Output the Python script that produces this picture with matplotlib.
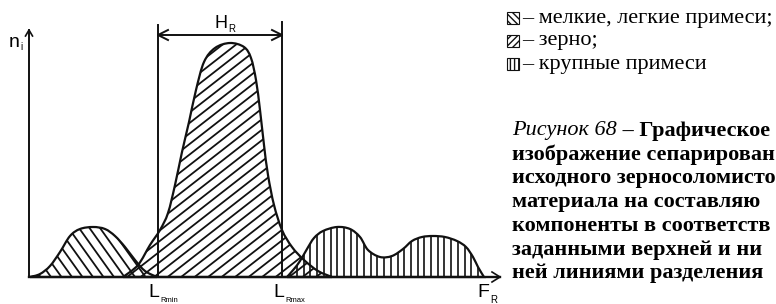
import numpy as np
import matplotlib
matplotlib.use('Agg')
import matplotlib.pyplot as plt
from matplotlib.path import Path
from matplotlib.patches import PathPatch, Rectangle
from matplotlib.collections import LineCollection

# ---------------- data (F along x-axis, n_i height) ----------------
fine_F = [1, 11, 21, 31, 41, 51, 64, 76, 86, 96, 106, 116, 128]
fine_n = [0, 3, 11, 25, 41, 48, 50, 48, 41, 30, 17, 6, 0]

grain_F = [94, 109, 121, 131, 139, 146, 153, 160, 167, 175, 186, 201, 215, 222,
           227, 231, 235, 239, 245, 253, 263, 275, 289, 303]
grain_n = [0, 12, 32, 47, 64, 92, 125, 155, 187, 215, 229, 234, 230, 219,
           197, 167, 132, 102, 72, 47, 30, 17, 6, 0]

coarse_F = [258, 265, 271, 278, 285, 294, 308, 321, 331, 339, 351, 363, 374, 383,
            393, 404, 416, 428, 437, 444, 449, 455]
coarse_n = [0, 8, 16, 28, 39, 46, 50, 48, 40, 27, 20, 21, 28, 36,
            40, 41, 40, 36, 30, 20, 10, 0]

L_Rmin = 129
L_Rmax = 253

legend_labels = ['– мелкие, легкие примеси;', '– зерно;', '– крупные примеси']
caption_first_italic = 'Рисунок 68'
caption_first_bold = ' – Графическое'
# caption lines as visible in the reference (cropped at the right edge there)
caption_lines = ['изображение сепарирован',
                 'исходного зерносоломисто',
                 'материала на составляю',
                 'компоненты в соответств',
                 'заданными верхней и ни',
                 'ней линиями разделения']

# ---------------- figure ----------------
fig = plt.figure(figsize=(7.76, 3.04), dpi=100)
ax = fig.add_axes([0, 0, 1, 1])
ax.set_xlim(-29, 747)
ax.set_ylim(-27, 277)
ax.axis('off')

def px(x, y):
    return x - 29, 277 - y

def smooth_path(F, n):
    P = np.column_stack([F, n]).astype(float)
    Pe = np.vstack([P[0], P, P[-1]])
    verts = [P[0]]
    codes = [Path.MOVETO]
    for i in range(len(P) - 1):
        p0, p1, p2, p3 = Pe[i], Pe[i + 1], Pe[i + 2], Pe[i + 3]
        c1 = p1 + (p2 - p0) / 6.0
        c2 = p2 - (p3 - p1) / 6.0
        verts += [c1, c2, p2]
        codes += [Path.CURVE4] * 3
    verts.append(P[0])
    codes.append(Path.LINETO)
    return Path(verts, codes)

k = '#111111'

def hatch(F, n, slope, step, lw=1.3):
    path = smooth_path(F, n)
    clip = PathPatch(path, transform=ax.transData, facecolor='none', edgecolor='none')
    ax.add_patch(clip)
    x0, x1 = min(F), max(F)
    H = max(n) + 5
    segs = []
    if slope is None:
        for c in np.arange(x0 + step / 2, x1, step):
            segs.append([(c, 0), (c, H)])
    else:
        cmin = min(x0, x0 - H / slope)
        cmax = max(x1, x1 - H / slope)
        for c in np.arange(cmin, cmax, step):
            segs.append([(c, 0), (c + H / slope, H)])
    lc = LineCollection(segs, colors=k, linewidths=lw)
    lc.set_clip_path(clip)
    ax.add_collection(lc)
    outline = PathPatch(path, facecolor='none', edgecolor=k, lw=1.6)
    ax.add_patch(outline)

hatch(fine_F, fine_n, -1.4, 10.5)
hatch(grain_F, grain_n, 0.78, 13.5)
hatch(coarse_F, coarse_n, None, 6.7, lw=1.2)

# axes
ax.plot([0, 0], [0, 247], color=k, lw=1.4)
ax.plot([0, 471], [0, 0], color=k, lw=1.7)
ax.plot([-3.5, 0, 3.5], [241, 247, 241], color=k, lw=1.2)
ax.plot([463, 471, 463], [5, 0, -5], color=k, lw=1.2)

# separation lines
ax.plot([L_Rmin, L_Rmin], [0, 252], color=k, lw=1.4)
ax.plot([L_Rmax, L_Rmax], [0, 255], color=k, lw=1.4)
ax.plot([L_Rmin, L_Rmax], [242, 242], color=k, lw=1.4)
ax.plot([L_Rmin + 10, L_Rmin, L_Rmin + 10], [247, 242, 237], color=k, lw=1.4)
ax.plot([L_Rmax - 10, L_Rmax, L_Rmax - 10], [247, 242, 237], color=k, lw=1.4)

sans = 'Liberation Sans'
ax.text(*px(20, 47), 'n', fontsize=14, family=sans, ha='right', va='baseline')
ax.text(*px(20.5, 50), 'i', fontsize=7, family=sans, ha='left', va='baseline')
ax.text(*px(227, 28), 'H', fontsize=13, family=sans, ha='right', va='baseline')
ax.text(*px(228, 32), 'R', fontsize=7, family=sans, ha='left', va='baseline')
ax.text(*px(159, 297), 'L', fontsize=14, family=sans, ha='right', va='baseline')
ax.text(*px(160, 302), 'Rmin', fontsize=5.5, family=sans, ha='left', va='baseline')
ax.text(*px(284, 297), 'L', fontsize=14, family=sans, ha='right', va='baseline')
ax.text(*px(285, 302), 'Rmax', fontsize=5.5, family=sans, ha='left', va='baseline')
ax.text(*px(489, 297), 'F', fontsize=14, family=sans, ha='right', va='baseline')
ax.text(*px(490, 303), 'R', fontsize=7, family=sans, ha='left', va='baseline')

# legend
serif = 'Liberation Serif'
FS = 16
icon_hatch = ['\\\\\\\\\\', '/////', '||||']
legend_y = [18, 41, 64]
for lab, hy, yy in zip(legend_labels, icon_hatch, legend_y):
    x0, y0 = px(507, yy + 6)
    r = Rectangle((x0, y0), 12, 12, facecolor='white', edgecolor=k, lw=0.8, hatch=hy)
    ax.add_patch(r)
    ax.text(*px(522, yy), lab, fontsize=FS, family=serif, ha='left', va='center')

# caption
cap_y0 = 131
cap_dy = 23.7
t1 = ax.text(*px(512, cap_y0), caption_first_italic, fontsize=FS, family=serif,
             style='italic', ha='left', va='center')
fig.canvas.draw()
bb = t1.get_window_extent(renderer=fig.canvas.get_renderer())
ax.text(*px(bb.x1, cap_y0), caption_first_bold, fontsize=FS, family=serif,
        weight='bold', ha='left', va='center')
for i, line in enumerate(caption_lines):
    ax.text(*px(512, cap_y0 + (i + 1) * cap_dy), line, fontsize=FS, family=serif,
            weight='bold', ha='left', va='center')

fig.savefig('out.png', dpi=100)
